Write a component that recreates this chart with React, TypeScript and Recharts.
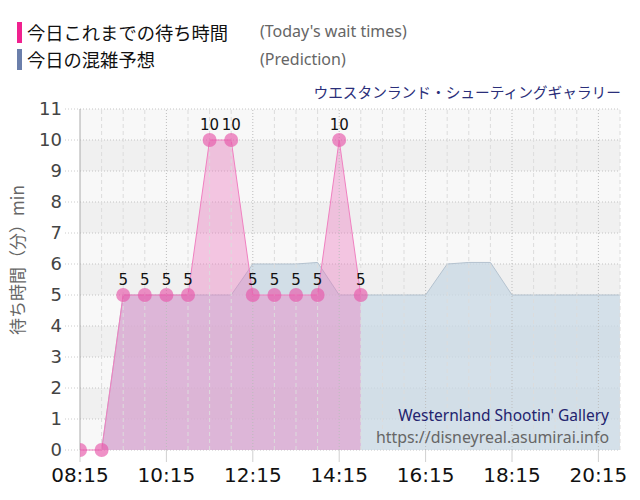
import React from 'react';
import { ComposedChart, Area, XAxis, YAxis, CartesianGrid, ReferenceLine, LabelList } from 'recharts';

const waitTimes = ['08:15','08:45','09:15','09:45','10:15','10:45','11:15','11:45','12:15','12:45','13:15','13:45','14:15','14:45'];
const waitValues = [0, 0, 5, 5, 5, 5, 10, 10, 5, 5, 5, 5, 10, 5];

const predTimes = ['08:45','09:15','09:45','10:15','10:45','11:15','11:45','12:15','12:45','13:15','13:45','14:15','14:45','15:15','15:45','16:15','16:45','17:15','17:45','18:15','18:45','19:15','19:45','20:15','20:45'];
const predValues = [0, 5, 5, 5, 5, 5, 5, 6, 6, 6, 6.05, 5, 5, 5, 5, 5, 6, 6.05, 6.05, 5, 5, 5, 5, 5, 5];

const xTickLabels = ['08:15','10:15','12:15','14:15','16:15','18:15','20:15'];
const xDomainLabels = ['08:15','20:45'];
const yTicks = [0,1,2,3,4,5,6,7,8,9,10,11];

const toMin = (s: string) => { const [h, m] = s.split(':').map(Number); return h * 60 + m; };
const fmt = (v: number) => { const h = Math.floor(v / 60); const m = v % 60; return `${String(h).padStart(2,'0')}:${String(m).padStart(2,'0')}`; };

const allTimes = Array.from(new Set([...waitTimes, ...predTimes])).sort((a, b) => toMin(a) - toMin(b));
const data = allTimes.map(t => {
  const wi = waitTimes.indexOf(t);
  const pi = predTimes.indexOf(t);
  return { t: toMin(t), wait: wi >= 0 ? waitValues[wi] : null, pred: pi >= 0 ? predValues[pi] : null };
});

const majorSet = new Set(xTickLabels.map(toMin));

export default function App() {
  const jp = '"Noto Sans CJK JP", "Noto Sans", sans-serif';
  return (
    <div style={{ position: 'absolute', left: 0, top: 0, width: 640, height: 500, background: '#fff', overflow: 'hidden' }}>
      <div style={{ position: 'absolute', left: 17, top: 22, width: 5, height: 21, background: '#f0218f' }} />
      <div style={{ position: 'absolute', left: 27, top: 21, fontFamily: jp, fontSize: 18.3, lineHeight: '22px', color: '#111', whiteSpace: 'nowrap' }}>今日これまでの待ち時間</div>
      <div style={{ position: 'absolute', left: 260, top: 20, fontFamily: '"Noto Sans", sans-serif', fontSize: 16, lineHeight: '22px', color: '#666', whiteSpace: 'nowrap' }}>(Today's wait times)</div>
      <div style={{ position: 'absolute', left: 17, top: 49, width: 5, height: 21, background: '#6b7fab' }} />
      <div style={{ position: 'absolute', left: 27, top: 48, fontFamily: jp, fontSize: 18.3, lineHeight: '22px', color: '#111', whiteSpace: 'nowrap' }}>今日の混雑予想</div>
      <div style={{ position: 'absolute', left: 260, top: 48, fontFamily: '"Noto Sans", sans-serif', fontSize: 16, lineHeight: '22px', color: '#666', whiteSpace: 'nowrap' }}>(Prediction)</div>
      <div style={{ position: 'absolute', right: 19, top: 82, fontFamily: jp, fontSize: 14.7, lineHeight: '20px', color: '#2b2f7a', whiteSpace: 'nowrap' }}>ウエスタンランド・シューティングギャラリー</div>

      <div style={{ position: 'absolute', left: 0, top: 0 }}>
        <ComposedChart width={640} height={500} data={data} margin={{ top: 109, right: 20, bottom: 20, left: 0 }}>
          <CartesianGrid vertical={false} stroke="#c4c4c4" strokeDasharray="1 2" horizontalFill={['#f8f8f8', '#f0f0f0']} fillOpacity={1} />
          <XAxis
            dataKey="t"
            type="number"
            domain={xDomainLabels.map(toMin)}
            ticks={xTickLabels.map(toMin)}
            tickFormatter={fmt}
            height={30}
            axisLine={false}
            tickLine={{ stroke: '#d0d0d0' }}
            tickSize={12}
            tickMargin={6}
            tick={{ fill: '#111', fontSize: 20, fontFamily: '"DejaVu Sans", sans-serif' }}
            allowDataOverflow
          />
          <YAxis
            type="number"
            domain={[0, 11]}
            ticks={yTicks}
            width={80}
            axisLine={{ stroke: '#aaaaaa' }}
            tickLine={{ stroke: '#cccccc', strokeDasharray: '1 2' }}
            tickSize={15}
            tickMargin={3}
            interval={0}
            tick={{ fill: '#444', fontSize: 18, fontFamily: '"DejaVu Sans", sans-serif' }}
          />
          <Area type="linear" dataKey="pred" stroke="#b4c2cf" strokeWidth={1} fill="rgb(200,216,228)" fillOpacity={0.75} dot={false} activeDot={false} isAnimationActive={false} connectNulls={false} />
          <Area type="linear" dataKey="wait" stroke="#f080c0" strokeWidth={1} fill="rgb(236,120,190)" fillOpacity={0.4}
            dot={{ r: 7, fill: 'rgb(230,88,170)', fillOpacity: 0.66, stroke: 'none', strokeWidth: 0 }} activeDot={false} isAnimationActive={false} connectNulls={false}>
            <LabelList dataKey="wait" position="top" offset={10} fill="#111" fontSize={15} fontFamily='"DejaVu Sans", sans-serif'
              formatter={(v: any) => (v === null || v === undefined || v === 0 ? '' : v)} />
          </Area>
          {predTimes.map(t => (
            <ReferenceLine key={t} x={toMin(t)}
              stroke={majorSet.has(toMin(t)) ? '#bdbdbd' : '#dcdcdc'}
              strokeDasharray={majorSet.has(toMin(t)) ? '1 2' : '4 3'} />
          ))}
        </ComposedChart>
      </div>

      <div style={{ position: 'absolute', left: -83, top: 250, width: 200, height: 20, lineHeight: '20px', textAlign: 'center', transform: 'rotate(-90deg)', fontFamily: jp, fontSize: 17, color: '#666', whiteSpace: 'nowrap' }}>待ち時間（分）min</div>
      <div style={{ position: 'absolute', right: 31, top: 405, fontFamily: '"Noto Sans", sans-serif', fontSize: 15.5, lineHeight: '20px', color: '#23236e', whiteSpace: 'nowrap' }}>Westernland Shootin' Gallery</div>
      <div style={{ position: 'absolute', right: 31, top: 427, fontFamily: '"Noto Sans", sans-serif', fontSize: 15.9, lineHeight: '20px', color: '#666', whiteSpace: 'nowrap' }}>https://disneyreal.asumirai.info</div>
    </div>
  );
}
